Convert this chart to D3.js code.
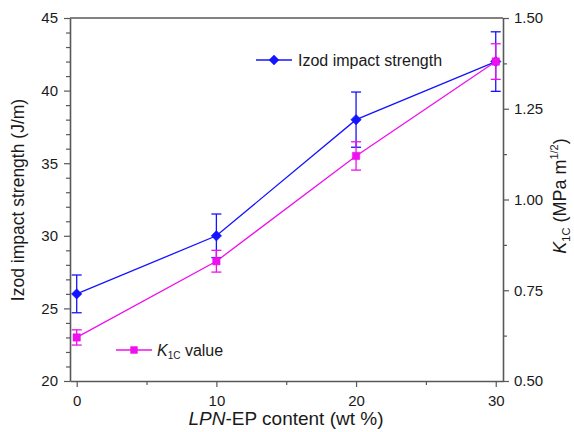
<!DOCTYPE html>
<html><head><meta charset="utf-8">
<script src="https://cdn.jsdelivr.net/npm/d3@7"></script>
<style>body{margin:0;background:#fff}svg{display:block;font-family:"Liberation Sans",Arial,sans-serif}</style>
</head><body><div id="chart"></div>
<script>
const content = [0, 10, 20, 30];
const izod = [26.0, 30.0, 38.0, 42.0];
const izodErr = [1.3, 1.5, 1.9, 2.05];
const k1c = [0.62, 0.83, 1.12, 1.38];
const k1cErr = [0.021, 0.030, 0.039, 0.049];
const xTicks = [0, 10, 20, 30];
const leftTicks = [20, 25, 30, 35, 40, 45];
const rightTicks = [0.50, 0.75, 1.00, 1.25, 1.50];

const W = 574, H = 432;
const m = {l: 70, r: 71, t: 18, b: 51};
const svg = d3.select("#chart").append("svg").attr("width", W).attr("height", H);
const x = d3.scaleLinear().domain([-0.48, 30.52]).range([m.l, W - m.r]);
const yL = d3.scaleLinear().domain([20, 45]).range([H - m.b, m.t]);
const yR = d3.scaleLinear().domain([0.5, 1.5]).range([H - m.b, m.t]);
const axisColor = "#585858";
const blue = "#1414ff", mag = "#ee10ee";
const txt = "#1a1a1a";

function styleAxis(g) {
  g.selectAll(".domain").attr("stroke", axisColor).attr("stroke-width", 1.6);
  g.selectAll(".tick line").attr("stroke", axisColor).attr("stroke-width", 1.2);
  g.selectAll("text").attr("fill", txt).style("font-size", "15px");
}
// minor ticks
svg.append("g").attr("transform", `translate(0,${H - m.b})`)
  .call(d3.axisBottom(x).tickValues([5, 15, 25]).tickSize(4).tickFormat("").tickSizeOuter(0))
  .call(g => g.select(".domain").remove()).call(styleAxis);
svg.append("g").attr("transform", `translate(${m.l},0)`)
  .call(d3.axisLeft(yL).tickValues(d3.range(21, 45, 1).filter(v => v % 5 !== 0)).tickSize(4).tickFormat("").tickSizeOuter(0))
  .call(g => g.select(".domain").remove()).call(styleAxis);
svg.append("g").attr("transform", `translate(${W - m.r},0)`)
  .call(d3.axisRight(yR).tickValues([0.625, 0.875, 1.125, 1.375]).tickSize(4).tickFormat("").tickSizeOuter(0))
  .call(g => g.select(".domain").remove()).call(styleAxis);
// major axes
svg.append("g").attr("transform", `translate(0,${H - m.b})`)
  .call(d3.axisBottom(x).tickValues(xTicks).tickSize(6).tickSizeOuter(0).tickPadding(8))
  .call(styleAxis);
svg.append("g").attr("transform", `translate(${m.l},0)`)
  .call(d3.axisLeft(yL).tickValues(leftTicks).tickSize(6).tickSizeOuter(0).tickPadding(6))
  .call(styleAxis);
svg.append("g").attr("transform", `translate(${W - m.r},0)`)
  .call(d3.axisRight(yR).tickValues(rightTicks).tickFormat(d3.format(".2f")).tickSize(6).tickSizeOuter(0).tickPadding(5))
  .call(styleAxis);
svg.append("line").attr("x1", m.l).attr("x2", W - m.r).attr("y1", m.t).attr("y2", m.t)
  .attr("stroke", axisColor).attr("stroke-width", 1.6);

function sym(shape) {
  return d3.symbol().type(shape === "d" ? d3.symbolDiamond2 : d3.symbolSquare2).size(shape === "d" ? 70 : 70)();
}
function series(vals, errs, y, color, shape) {
  const g = svg.append("g");
  const pts = content.map((c, i) => [x(c), y(vals[i])]);
  g.append("path").attr("d", d3.line()(pts)).attr("fill", "none").attr("stroke", color).attr("stroke-width", 1.3);
  content.forEach((c, i) => {
    const cx = x(c), t = y(vals[i] + errs[i]), b = y(vals[i] - errs[i]);
    g.append("line").attr("x1", cx).attr("x2", cx).attr("y1", t).attr("y2", b).attr("stroke", color).attr("stroke-width", 1.3);
    [t, b].forEach(yy => g.append("line").attr("x1", cx - 5).attr("x2", cx + 5).attr("y1", yy).attr("y2", yy).attr("stroke", color).attr("stroke-width", 1.3));
  });
  g.selectAll("path.m").data(pts).join("path").attr("class", "m")
    .attr("transform", d => `translate(${d[0]},${d[1]})`)
    .attr("d", sym(shape)).attr("fill", color).attr("stroke", color).attr("stroke-width", 0.5);
}
series(izod, izodErr, yL, blue, "d");
series(k1c, k1cErr, yR, mag, "s");

// legends
function legend(x0, y0, color, shape) {
  svg.append("line").attr("x1", x0).attr("x2", x0 + 36).attr("y1", y0).attr("y2", y0).attr("stroke", color).attr("stroke-width", 1.3);
  svg.append("path").attr("transform", `translate(${x0 + 18},${y0})`).attr("d", sym(shape)).attr("fill", color);
}
legend(256, 60, blue, "d");
svg.append("text").attr("x", 298).attr("y", 66).style("font-size", "16px").attr("fill", txt).text("Izod impact strength");
legend(116, 350, mag, "s");
const kt = svg.append("text").attr("x", 157).attr("y", 356).style("font-size", "16px").attr("fill", txt);
kt.append("tspan").attr("font-style", "italic").text("K");
kt.append("tspan").attr("dy", 3).style("font-size", "10px").text("1C");
kt.append("tspan").attr("dy", -3).text(" value");

// axis titles
svg.append("text").attr("transform", `translate(24,200) rotate(-90)`).attr("text-anchor", "middle")
  .style("font-size", "17.5px").attr("fill", txt).text("Izod impact strength (J/m)");
const bt = svg.append("text").attr("x", 286).attr("y", 425).attr("text-anchor", "middle").style("font-size", "19px").attr("fill", txt);
bt.append("tspan").attr("font-style", "italic").text("LPN");
bt.append("tspan").text("-EP content (wt %)");
const rt = svg.append("text").attr("transform", `translate(566,196) rotate(-90)`).attr("text-anchor", "middle").style("font-size", "18px").attr("fill", txt);
rt.append("tspan").attr("font-style", "italic").text("K");
rt.append("tspan").attr("dy", 4).style("font-size", "11px").text("1C");
rt.append("tspan").attr("dy", -4).text(" (MPa m");
rt.append("tspan").attr("dy", -8).style("font-size", "11px").text("1/2");
rt.append("tspan").attr("dy", 8).text(")");
</script></body></html>
